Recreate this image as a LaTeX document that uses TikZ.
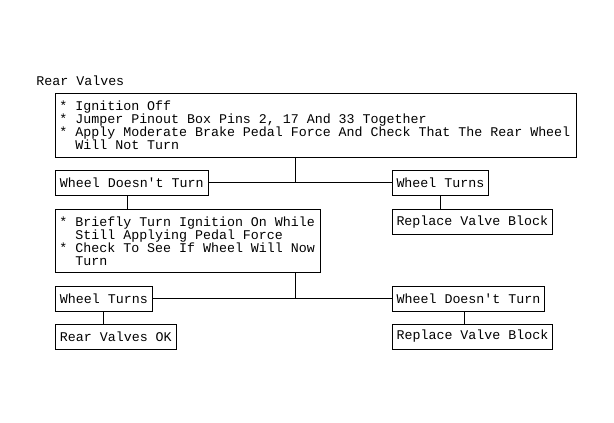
\documentclass[tikz,border=0pt]{standalone}
\usepackage{fontspec}
\usepackage{tikz}
\usetikzlibrary{positioning}
\newfontfamily\codefont{Liberation Mono}
\newcommand{\boxfont}{\codefont\fontsize{13.3}{13}\selectfont}
\newcommand{\ind}{\hphantom{* }}

\begin{document}
\begin{tikzpicture}[x=1pt, y=-1pt, line width=0.9pt,
			box/.style={draw, rectangle, inner xsep=4.5pt, inner ysep=3pt, minimum height=25pt, anchor=north west, align=flush left, font=\boxfont},
			steps/.style={box, inner xsep=4pt}]
			\useasboundingbox (0,0) rectangle (614,423);
			\node[anchor=base west, inner sep=0pt, font=\boxfont](title) at (36,85) {Rear Valves};
			\node[steps, text width=513pt, minimum height=64pt](steps1) at (55,93) {* Ignition Off\\{}* Jumper Pinout Box Pins 2, 17 And 33 Together\\{}* Apply Moderate Brake Pedal Force And Check That The Rear Wheel\\\ind Will Not Turn};
			\node[box, below=12pt of steps1.south west, anchor=north west](wdt1) {Wheel Doesn't Turn};
			\node[box, right=183pt of wdt1, anchor=west](wt1) {Wheel Turns};
			\node[box, below=13pt of wt1.south west, anchor=north west](rvb1) {Replace Valve Block};
			
			\node[steps, text width=257pt, minimum height=63pt, below=13pt of wdt1.south west, anchor=north west](steps2) {* Briefly Turn Ignition On While\\\ind Still Applying Pedal Force\\{}* Check To See If Wheel Will Now\\\ind Turn};
			\node[box, below=13pt of steps2.south west, anchor=north west](wt2) {Wheel Turns};
			\node[box, right=239pt of wt2, anchor=west](wdt2) {Wheel Doesn't Turn};
			\node[box, below=12pt of wt2.south west, anchor=north west](ok) {Rear Valves OK};
			\node[box, below=12pt of wdt2.south west, anchor=north west](rvb2) {Replace Valve Block};
			
			\coordinate (split) at (295,0);
			\draw (wdt1) -- (wt1);
			\draw (steps1.south -| split) -- (wdt1.east -| split);
			\draw (wt1.south) -- (wt1.south |- rvb1.north);
			\draw ([xshift=-4.5pt]wdt1.south) -- ([xshift=-4.5pt]wdt1.south |- steps2.north);
			
			\draw (wt2) -- (wdt2);
			\draw (steps2.south -| split) -- (wt2.east -| split);
			\draw (wt2.south) -- (wt2.south |- ok.north);
			\draw ([xshift=-4.5pt]wdt2.south) -- ([xshift=-4.5pt]wdt2.south |- rvb2.north);
			
		\end{tikzpicture}
\end{document}
